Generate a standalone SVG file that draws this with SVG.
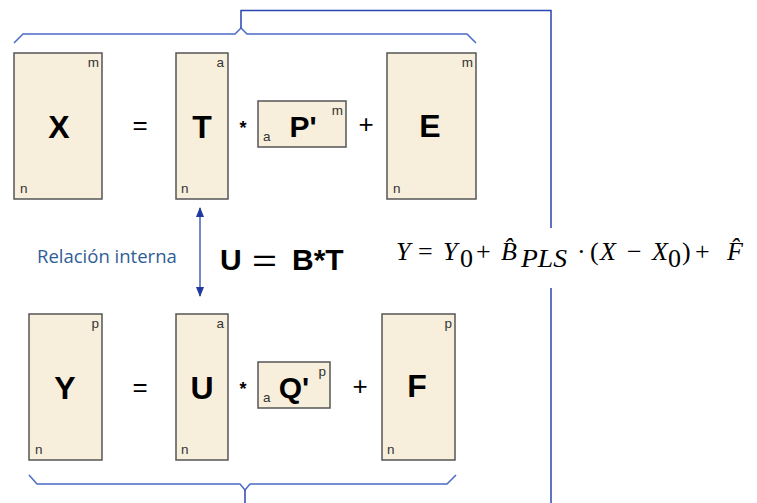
<svg xmlns="http://www.w3.org/2000/svg" width="757" height="503" viewBox="0 0 757 503">
<style>
.box{fill:#f7efdc;stroke:#555;stroke-width:1.5}
.big{font-family:"Liberation Sans",Arial,sans-serif;font-weight:bold;font-size:32px;fill:#000;text-anchor:middle}
.mid{font-family:"Liberation Sans",Arial,sans-serif;font-weight:bold;font-size:30px;fill:#000;text-anchor:middle}
.sm{font-family:"Liberation Sans",Arial,sans-serif;font-size:13.5px;fill:#333}
.op{font-family:"Liberation Sans",Arial,sans-serif;font-size:26px;fill:#000;text-anchor:middle}
.star{font-family:"Liberation Sans",Arial,sans-serif;font-weight:bold;font-size:18px;fill:#000;text-anchor:middle}
.brace{fill:none;stroke:#4a6bc6;stroke-width:1.5}
.link{fill:none;stroke:#2a44b0;stroke-width:1.5}
.eq{font-family:"Liberation Serif","Times New Roman",serif;font-style:italic;font-size:26px;fill:#000}
.eqr{font-family:"Liberation Serif","Times New Roman",serif;font-style:normal;font-size:26px;fill:#000}
</style>
<defs>
<marker id="ah" viewBox="0 0 10 10" refX="9" refY="5" markerWidth="10" markerHeight="10" markerUnits="userSpaceOnUse" orient="auto-start-reverse">
<path d="M0,1 L10,5 L0,9 Z" fill="#1f3a9c"/>
</marker>
</defs>
<rect width="757" height="503" fill="#fff"/>

<g id="connectors">
<path class="brace" d="M14,43 L23,34 L235,34 L241,28 L247,34 L467,34 L476,43"/>
<path class="link" d="M241,28 L241,10.5 L551,10.5 L551,228"/>
<path class="link" d="M551,288 L551,503"/>
<path class="brace" d="M29,475 L37,484 L240,484 L245,490 L250,484 L447,484 L456,475"/>
<path class="link" d="M245,490 L245,503"/>
<line x1="200" y1="296" x2="200" y2="208" stroke="#4b62b8" stroke-width="1.5" marker-start="url(#ah)" marker-end="url(#ah)"/>
</g>

<g id="X">
<rect class="box" x="14" y="53" width="88" height="146"/>
<text class="big" x="59" y="138">X</text>
<text class="sm" x="99" y="67" text-anchor="end">m</text>
<text class="sm" x="20" y="193">n</text>
</g>
<text class="op" x="140" y="134">=</text>
<g id="T">
<rect class="box" x="176" y="53" width="52" height="146"/>
<text class="big" x="202" y="138">T</text>
<text class="sm" x="224" y="67" text-anchor="end">a</text>
<text class="sm" x="181" y="193">n</text>
</g>
<text class="star" x="243" y="134">*</text>
<g id="P">
<rect class="box" x="258" y="101" width="88" height="46"/>
<text class="mid" x="303" y="137">P'</text>
<text class="sm" x="263" y="141">a</text>
<text class="sm" x="343" y="115" text-anchor="end">m</text>
</g>
<text class="op" x="366" y="133">+</text>
<g id="E">
<rect class="box" x="387" y="53" width="89" height="146"/>
<text class="big" x="430" y="137">E</text>
<text class="sm" x="473" y="67" text-anchor="end">m</text>
<text class="sm" x="393" y="193">n</text>
</g>

<g id="relacion">
<text x="37" y="263" font-family="'Open Sans','Noto Sans',sans-serif" font-size="18.5" fill="#2f5d95">Relación interna</text>
</g>
<g id="UBT" font-family="'Liberation Sans',Arial,sans-serif" fill="#000">
<text x="220" y="270" font-size="30" font-weight="bold">U</text>
<text x="252" y="271" font-size="31" textLength="25" lengthAdjust="spacingAndGlyphs">=</text>
<text x="292" y="270" font-size="30" font-weight="bold">B*T</text>
</g>

<g id="equation">
<text class="eq" x="396" y="260">Y</text>
<text class="eqr" x="418" y="260" font-size="30">=</text>
<text class="eq" x="443" y="260">Y</text>
<text class="eqr" x="460" y="267" font-size="16">0</text>
<text class="eqr" x="476" y="260" font-size="28">+</text>
<text class="eq" x="501" y="260">B̂</text>
<text class="eq" x="521" y="267" font-size="18" textLength="46" lengthAdjust="spacingAndGlyphs">PLS</text>
<text class="eqr" x="577" y="260">·</text>
<text class="eqr" x="590" y="260">(</text>
<text class="eq" x="600" y="260">X</text>
<text class="eqr" x="627" y="260" font-size="28">−</text>
<text class="eq" x="652" y="260">X</text>
<text class="eqr" x="668" y="267" font-size="15">0</text>
<text class="eqr" x="682" y="260">)</text>
<text class="eqr" x="695" y="260" font-size="28">+</text>
<text class="eq" x="727" y="260">F̂</text>
</g>

<g id="Y">
<rect class="box" x="29" y="314" width="73" height="146"/>
<text class="big" x="65" y="399">Y</text>
<text class="sm" x="99" y="328" text-anchor="end">p</text>
<text class="sm" x="35" y="454">n</text>
</g>
<text class="op" x="140" y="396">=</text>
<g id="U">
<rect class="box" x="176" y="314" width="52" height="146"/>
<text class="big" x="202" y="399">U</text>
<text class="sm" x="224" y="328" text-anchor="end">a</text>
<text class="sm" x="181" y="454">n</text>
</g>
<text class="star" x="243" y="395">*</text>
<g id="Q">
<rect class="box" x="258" y="362" width="72" height="46"/>
<text class="mid" x="294" y="398">Q'</text>
<text class="sm" x="263" y="402">a</text>
<text class="sm" x="326" y="376" text-anchor="end">p</text>
</g>
<text class="op" x="360" y="395">+</text>
<g id="F">
<rect class="box" x="382" y="314" width="73" height="146"/>
<text class="big" x="417" y="397">F</text>
<text class="sm" x="452" y="328" text-anchor="end">p</text>
<text class="sm" x="387" y="454">n</text>
</g>
</svg>
